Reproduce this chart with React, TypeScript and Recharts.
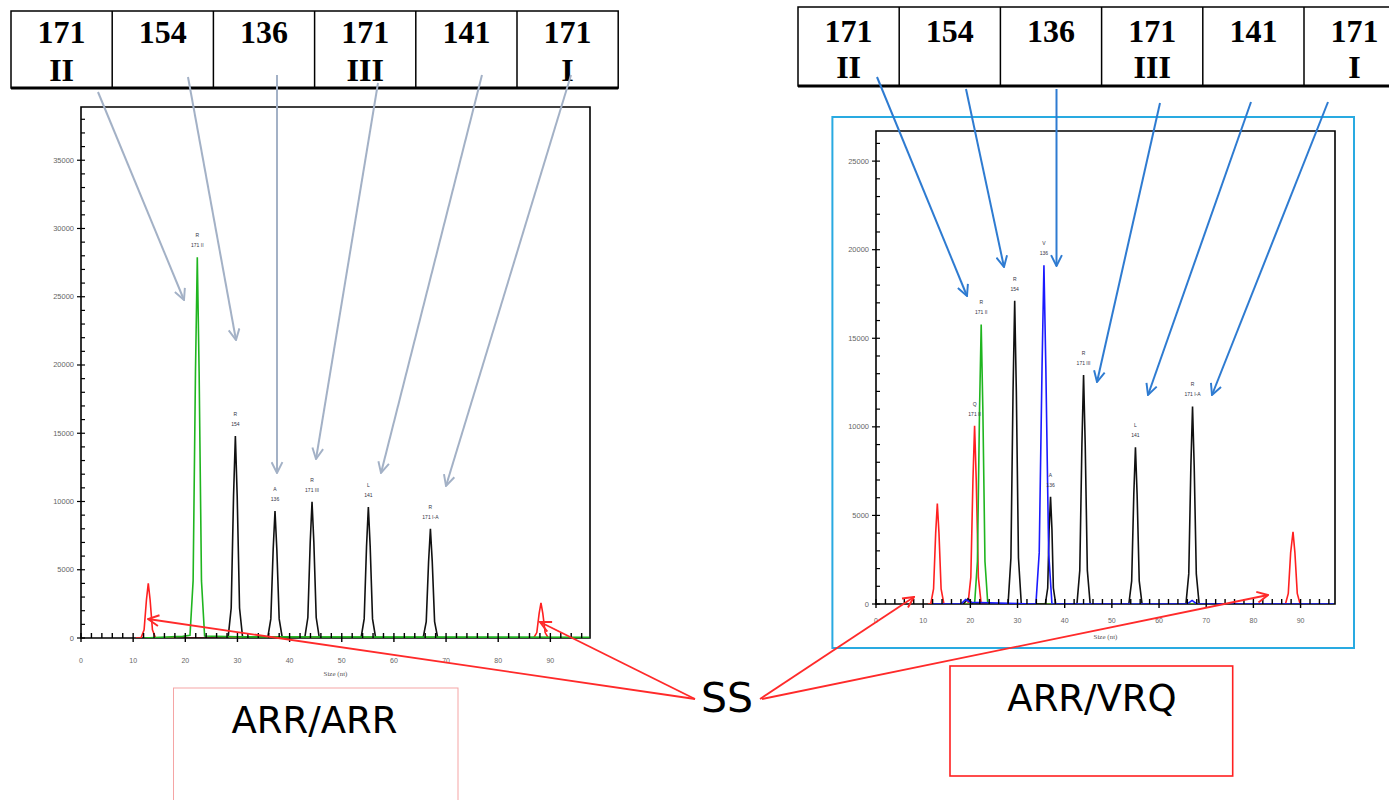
import { ComposedChart, Line, Scatter, XAxis, YAxis, ReferenceArea } from 'recharts';

type Pt = [number, number];
type PeakTag = { x: number; y: number; a: string; b: string };

// ---- left electropherogram (ARR/ARR) ----
const leftRed: Pt[] = [
  [10.5, 0], [11.5, 0], [12.1, 600], [12.55, 2800], [12.9, 4000], [13.25, 2800], [13.7, 600], [14.3, 0],
  [86.8, 0], [87.4, 400], [87.85, 1800], [88.2, 2570], [88.55, 1800], [89.0, 400], [89.6, 0], [90.5, 0],
];
const leftGreen: Pt[] = [
  [12, 0], [19.5, 120], [20.9, 200], [21.5, 4200], [21.95, 19500], [22.3, 27900], [22.65, 19500],
  [23.1, 4200], [23.7, 150], [30, 80], [97.5, 60],
];
const leftBlack: Pt[] = [
  [18, 0],
  [28.2, 0], [28.8, 2200], [29.25, 10400], [29.6, 14800], [29.95, 10400], [30.4, 2200], [31.0, 0],
  [35.8, 0], [36.4, 1400], [36.85, 6500], [37.2, 9300], [37.55, 6500], [38.0, 1400], [38.6, 0],
  [42.9, 0], [43.5, 1500], [43.95, 7000], [44.3, 9970], [44.65, 7000], [45.1, 1500], [45.7, 0],
  [53.7, 0], [54.3, 1400], [54.75, 6700], [55.1, 9600], [55.45, 6700], [55.9, 1400], [56.5, 0],
  [65.6, 0], [66.2, 1200], [66.65, 5600], [67.0, 8000], [67.35, 5600], [67.8, 1200], [68.4, 0],
  [97.5, 0],
];
const leftTags: PeakTag[] = [
  { x: 22.3, y: 27900, a: 'R', b: '171 II' },
  { x: 29.6, y: 14800, a: 'R', b: '154' },
  { x: 37.2, y: 9300, a: 'A', b: '136' },
  { x: 44.3, y: 9970, a: 'R', b: '171 III' },
  { x: 55.1, y: 9600, a: 'L', b: '141' },
  { x: 67.0, y: 8000, a: 'R', b: '171 I-A' },
];

// ---- right electropherogram (ARR/VRQ) ----
const rightRed: Pt[] = [
  [11, 0], [11.6, 0], [12.2, 850], [12.65, 4000], [13.0, 5670], [13.35, 4000], [13.8, 850], [14.4, 0],
  [19.5, 0], [20.1, 1500], [20.55, 7000], [20.9, 10060], [21.25, 7000], [21.7, 1500], [22.3, 0],
  [86.8, 0], [87.4, 600], [87.9, 2900], [88.4, 4080], [88.8, 2900], [89.3, 600], [89.9, 0], [96, 0],
];
const rightGreen: Pt[] = [
  [12, 0], [20.9, 0], [21.5, 2400], [21.95, 11000], [22.3, 15780], [22.65, 11000], [23.1, 2400], [23.7, 0], [97, 0],
];
const rightBlack: Pt[] = [
  [12, 0], [18.5, 0], [19.5, 300], [20.5, 0],
  [28.0, 0], [28.6, 2600], [29.05, 12000], [29.4, 17120], [29.75, 12000], [30.2, 2600], [30.8, 0],
  [35.9, 0], [36.4, 900], [36.7, 4200], [37.0, 6050], [37.3, 4200], [37.6, 900], [38.1, 0],
  [42.6, 0], [43.2, 1900], [43.65, 9000], [44.0, 12920], [44.35, 9000], [44.8, 1900], [45.4, 0],
  [53.6, 0], [54.2, 1300], [54.65, 6200], [55.0, 8850], [55.35, 6200], [55.8, 1300], [56.4, 0],
  [65.7, 0], [66.3, 1700], [66.75, 7800], [67.1, 11150], [67.45, 7800], [67.9, 1700], [68.5, 0],
  [97, 0],
];
const rightBlue: Pt[] = [
  [12, 0], [18, 0], [19, 250], [20, 100], [33.9, 0], [34.6, 2900], [35.2, 13400], [35.6, 19120],
  [36.0, 13400], [36.6, 2900], [37.3, 0], [66, 0], [67, 200], [68, 0], [97, 0],
];
const rightTags: PeakTag[] = [
  { x: 20.9, y: 10060, a: 'Q', b: '171 II' },
  { x: 22.3, y: 15780, a: 'R', b: '171 II' },
  { x: 29.4, y: 17120, a: 'R', b: '154' },
  { x: 35.6, y: 19120, a: 'V', b: '136' },
  { x: 37.0, y: 6050, a: 'A', b: '136' },
  { x: 44.0, y: 12920, a: 'R', b: '171 III' },
  { x: 55.0, y: 8850, a: 'L', b: '141' },
  { x: 67.1, y: 11150, a: 'R', b: '171 I-A' },
];

// ---- header tables ----
const codons = ['171', '154', '136', '171', '141', '171'];
const regions = ['II', '', '', 'III', '', 'I'];

const steps = (from: number, to: number, by: number) => {
  const out: number[] = [];
  for (let v = from; v <= to; v += by) out.push(v);
  return out;
};
const xTicks = steps(0, 96, 2);
const leftYTicks = steps(0, 38000, 1000);
const rightYTicks = steps(0, 26000, 1000);

const toPts = (arr: Pt[]) => arr.map(([x, y]) => ({ x, y }));

const XTick = (props: any) => {
  const { x, y, payload, dy } = props;
  const v = payload.value;
  const major = v % 10 === 0;
  return (
    <g>
      <line x1={x} x2={x} y1={y - 5} y2={major ? y + 4 : y} stroke="#000" strokeWidth={1.4} />
      {major && (
        <text x={x} y={y + dy} textAnchor="middle" fontSize={7} fill="#666" fontFamily="Liberation Sans">
          {v}
        </text>
      )}
    </g>
  );
};

const YTick = (props: any) => {
  const { x, y, payload } = props;
  const v = payload.value;
  const major = v % 5000 === 0;
  return (
    <g>
      <line x1={major ? x - 4 : x} x2={x + 4} y1={y} y2={y} stroke="#000" strokeWidth={1.2} />
      {major && (
        <text x={x - 7} y={y + 2.5} textAnchor="end" fontSize={7.5} fill="#666" fontFamily="Liberation Sans">
          {v}
        </text>
      )}
    </g>
  );
};

const TagShape = (props: any) => {
  const { cx, cy, payload } = props;
  return (
    <g fontFamily="Liberation Sans" fontSize={5} fill="#334" textAnchor="middle">
      <text x={cx} y={cy - 20}>{payload.a}</text>
      <text x={cx} y={cy - 10}>{payload.b}</text>
    </g>
  );
};

type TraceProps = {
  width: number;
  height: number;
  margin: { top: number; right: number; bottom: number; left: number };
  xMax: number;
  yMax: number;
  yTicks: number[];
  labelDy: number;
  titleOffset: number;
  series: { data: Pt[]; color: string }[];
  tags: PeakTag[];
};

function Trace({ width, height, margin, xMax, yMax, yTicks, labelDy, titleOffset, series, tags }: TraceProps) {
  return (
    <ComposedChart width={width} height={height} margin={margin}>
      <XAxis
        type="number"
        dataKey="x"
        domain={[0, xMax]}
        ticks={xTicks}
        interval={0}
        height={40}
        tickSize={0}
        tickMargin={0}
        axisLine={false}
        tickLine={false}
        allowDataOverflow
        tick={(p: any) => <XTick {...p} dy={labelDy} />}
        label={{ value: 'Size (nt)', position: 'insideBottom', offset: titleOffset, fontSize: 7, fill: '#555' }}
      />
      <YAxis
        type="number"
        domain={[0, yMax]}
        ticks={yTicks}
        interval={0}
        width={60}
        tickSize={0}
        tickMargin={0}
        axisLine={false}
        tickLine={false}
        allowDataOverflow
        tick={(p: any) => <YTick {...p} />}
      />
      <ReferenceArea x1={0} x2={xMax} y1={0} y2={yMax} fill="none" stroke="#000" strokeWidth={1.6} ifOverflow="visible" />
      {series.map((s, i) => (
        <Line
          key={i}
          data={toPts(s.data)}
          dataKey="y"
          type="linear"
          stroke={s.color}
          strokeWidth={1.6}
          dot={false}
          isAnimationActive={false}
        />
      ))}
      <Scatter data={tags} dataKey="y" shape={<TagShape />} isAnimationActive={false} />
    </ComposedChart>
  );
}

const Arrow = ({ x1, y1, x2, y2, color, id, w = 2 }: any) => (
  <line x1={x1} y1={y1} x2={x2} y2={y2} stroke={color} strokeWidth={w} markerEnd={`url(#${id})`} />
);

function HeaderTable({ left, top, colW, h, b1, b2 }: any) {
  return (
    <g>
      <rect x={left} y={top} width={colW * 6} height={h} fill="#fff" stroke="#000" strokeWidth={1.5} />
      <line x1={left} x2={left + colW * 6} y1={top + h} y2={top + h} stroke="#000" strokeWidth={3} />
      {codons.map((_, i) =>
        i > 0 ? <line key={i} x1={left + colW * i} x2={left + colW * i} y1={top} y2={top + h} stroke="#000" strokeWidth={1.5} /> : null
      )}
      {codons.map((c, i) => (
        <g key={i} fontFamily="Liberation Serif" fontWeight="bold" fontSize={32} textAnchor="middle" fill="#000">
          <text x={left + colW * (i + 0.5)} y={b1}>{c}</text>
          <text x={left + colW * (i + 0.5)} y={b2}>{regions[i]}</text>
        </g>
      ))}
    </g>
  );
}

export default function App() {
  return (
    <div style={{ position: 'absolute', left: 0, top: 0, width: 1389, height: 800, background: '#fff', overflow: 'hidden' }}>
      <div style={{ position: 'absolute', left: 20, top: 95 }}>
        <Trace
          width={590}
          height={600}
          margin={{ top: 12, right: 20, bottom: 17, left: 1 }}
          xMax={97.6}
          yMax={38900}
          yTicks={leftYTicks}
          labelDy={25}
          titleOffset={2}
          series={[
            { data: leftRed, color: '#ff2020' },
            { data: leftBlack, color: '#111' },
            { data: leftGreen, color: '#1fb51f' },
          ]}
          tags={leftTags}
        />
      </div>
      <div style={{ position: 'absolute', left: 816, top: 120 }}>
        <Trace
          width={540}
          height={540}
          margin={{ top: 11, right: 21, bottom: 16, left: 0 }}
          xMax={97.3}
          yMax={26700}
          yTicks={rightYTicks}
          labelDy={19}
          titleOffset={5}
          series={[
            { data: rightRed, color: '#ff2020' },
            { data: rightGreen, color: '#1fb51f' },
            { data: rightBlack, color: '#111' },
            { data: rightBlue, color: '#1a1aff' },
          ]}
          tags={rightTags}
        />
      </div>
      <svg width={1389} height={800} style={{ position: 'absolute', left: 0, top: 0, pointerEvents: 'none' }}>
        <defs>
          {[
            ['hGray', '#a3b1c6'],
            ['hBlue', '#2e7bd1'],
            ['hRed', '#ff2a2a'],
          ].map(([id, c]) => (
            <marker key={id} id={id} viewBox="0 0 12 12" refX={11} refY={6} markerWidth={13} markerHeight={13} markerUnits="userSpaceOnUse" orient="auto">
              <path d="M1,1 L11,6 L1,11" fill="none" stroke={c} strokeWidth={1.8} />
            </marker>
          ))}
        </defs>

        <rect x={832.4} y={117} width={521.6} height={531} fill="none" stroke="#29aae1" strokeWidth={2} />

        <HeaderTable left={11} top={11} colW={101.2} h={77} b1={43} b2={81} />
        <HeaderTable left={798} top={7} colW={101.2} h={79} b1={42} b2={78} />

        <Arrow id="hGray" color="#a3b1c6" x1={98} y1={92} x2={184} y2={300} />
        <Arrow id="hGray" color="#a3b1c6" x1={188} y1={77} x2={236} y2={340} />
        <Arrow id="hGray" color="#a3b1c6" x1={277} y1={75} x2={277} y2={473} />
        <Arrow id="hGray" color="#a3b1c6" x1={378} y1={83} x2={316} y2={459} />
        <Arrow id="hGray" color="#a3b1c6" x1={482} y1={75} x2={381} y2={473} />
        <Arrow id="hGray" color="#a3b1c6" x1={571} y1={75} x2={446} y2={486} />

        <Arrow id="hBlue" color="#2e7bd1" x1={877} y1={77} x2={967} y2={296} />
        <Arrow id="hBlue" color="#2e7bd1" x1={966} y1={89} x2={1004} y2={267} />
        <Arrow id="hBlue" color="#2e7bd1" x1={1056.5} y1={89} x2={1056.5} y2={266} />
        <Arrow id="hBlue" color="#2e7bd1" x1={1160} y1={103} x2={1097} y2={382} />
        <Arrow id="hBlue" color="#2e7bd1" x1={1251} y1={102} x2={1148} y2={395} />
        <Arrow id="hBlue" color="#2e7bd1" x1={1328} y1={102} x2={1212} y2={395} />

        <Arrow id="hRed" color="#ff2a2a" w={1.8} x1={695} y1={699} x2={148} y2={619} />
        <Arrow id="hRed" color="#ff2a2a" w={1.8} x1={695} y1={699} x2={540} y2={622} />
        <Arrow id="hRed" color="#ff2a2a" w={1.8} x1={760} y1={699} x2={914} y2={597} />
        <Arrow id="hRed" color="#ff2a2a" w={1.8} x1={762} y1={699} x2={1268} y2={595} />

        <text x={727} y={712} textAnchor="middle" fontFamily="DejaVu Sans" fontSize={41} fill="#000">SS</text>

        <rect x={173.5} y={688} width={284.5} height={130} fill="none" stroke="#f5a5a5" strokeWidth={1} />
        <text x={314.5} y={733} textAnchor="middle" fontFamily="DejaVu Sans" fontSize={37} fill="#000">ARR/ARR</text>

        <rect x={950} y={666} width={282.7} height={110} fill="none" stroke="#ff2020" strokeWidth={1.6} />
        <text x={1092} y={711} textAnchor="middle" fontFamily="DejaVu Sans" fontSize={37} fill="#000">ARR/VRQ</text>
      </svg>
    </div>
  );
}
